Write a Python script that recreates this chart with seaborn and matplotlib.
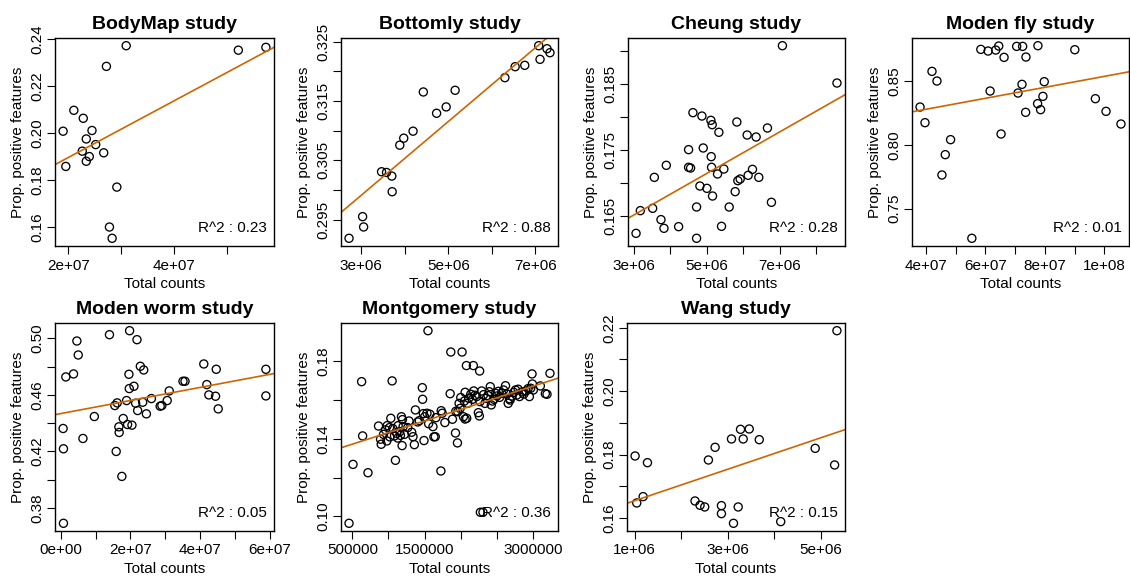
import numpy as np
import pandas as pd
import matplotlib
matplotlib.use("Agg")
import matplotlib.pyplot as plt
import seaborn as sns

# ---------------- data ----------------
titles = ["BodyMap study", "Bottomly study", "Cheung study", "Moden fly study",
          "Moden worm study", "Montgomery study", "Wang study"]
r2_labels = ["0.23", "0.88", "0.28", "0.01", "0.05", "0.36", "0.15"]

bodymap_counts = [1.905e7, 1.956e7, 2.108e7, 2.286e7, 2.267e7, 2.343e7, 2.451e7, 2.521e7,
                  2.40e7, 2.343e7, 2.673e7, 2.724e7, 2.921e7, 2.781e7, 2.832e7, 3.098e7,
                  5.219e7, 5.74e7]
bodymap_prop = [0.2008, 0.1858, 0.2097, 0.2063, 0.1923, 0.1975, 0.2011, 0.1951,
                0.1900, 0.1880, 0.1916, 0.2284, 0.1770, 0.1600, 0.1552, 0.2372,
                0.2353, 0.2365]

bottomly_counts = [2.718e6, 3.030e6, 3.053e6, 3.465e6, 3.579e6, 3.701e6, 3.709e6, 3.884e6,
                   3.975e6, 4.189e6, 4.425e6, 4.730e6, 4.950e6, 5.156e6, 6.299e6, 6.535e6,
                   6.756e6, 7.076e6, 7.107e6, 7.267e6, 7.335e6]
bottomly_prop = [0.29186, 0.29551, 0.29377, 0.30308, 0.30296, 0.30235, 0.29971, 0.30756,
                 0.30874, 0.30992, 0.31653, 0.31294, 0.31401, 0.31681, 0.31894, 0.32079,
                 0.32102, 0.32433, 0.32203, 0.32382, 0.32315]

cheung_counts = [3.064e6, 3.182e6, 3.519e6, 3.565e6, 3.747e6, 3.829e6, 3.893e6, 4.230e6,
                 4.503e6, 4.503e6, 4.558e6, 4.622e6, 4.722e6, 4.722e6, 4.813e6, 4.868e6,
                 4.904e6, 5.005e6, 5.114e6, 5.123e6, 5.132e6, 5.150e6, 5.159e6, 5.296e6,
                 5.333e6, 5.405e6, 5.469e6, 5.615e6, 5.779e6, 5.825e6, 5.852e6, 5.916e6,
                 6.107e6, 6.134e6, 6.253e6, 6.353e6, 6.426e6, 6.663e6, 6.772e6, 7.073e6,
                 8.567e6]
cheung_prop = [0.16243, 0.16586, 0.16621, 0.17089, 0.16450, 0.16319, 0.17271, 0.16344,
               0.17508, 0.17241, 0.17230, 0.18067, 0.16641, 0.16168, 0.16958, 0.18016,
               0.17533, 0.16923, 0.17951, 0.17402, 0.17241, 0.17885, 0.16807, 0.17140,
               0.17770, 0.16349, 0.17215, 0.16641, 0.16873, 0.17926, 0.17039, 0.17064,
               0.17729, 0.17120, 0.17210, 0.17699, 0.17089, 0.17835, 0.16712, 0.19079,
               0.18515]

fly_counts = [3.799e7, 3.966e7, 4.201e7, 4.369e7, 4.536e7, 4.648e7, 4.827e7, 5.542e7,
              5.844e7, 6.089e7, 6.156e7, 6.346e7, 6.447e7, 6.525e7, 6.626e7, 7.050e7,
              7.095e7, 7.229e7, 7.251e7, 7.352e7, 7.363e7, 7.754e7, 7.765e7, 7.855e7,
              7.933e7, 7.978e7, 9.006e7, 9.698e7, 1.0056e8, 1.0559e8]
fly_prop = [0.82963, 0.81736, 0.85757, 0.85000, 0.77637, 0.79230, 0.80405, 0.72676,
            0.87480, 0.87350, 0.84217, 0.87428, 0.87742, 0.80849, 0.86854, 0.87715,
            0.84060, 0.84739, 0.87715, 0.82546, 0.86880, 0.83225, 0.87768, 0.82755,
            0.83799, 0.84948, 0.87454, 0.83616, 0.82624, 0.81632]

worm_counts = [0.077e7, 0.067e7, 0.077e7, 0.145e7, 0.366e7, 0.462e7, 0.501e7, 0.636e7,
               0.963e7, 1.397e7, 1.551e7, 1.590e7, 1.618e7, 1.667e7, 1.676e7, 1.753e7,
               1.792e7, 1.888e7, 1.917e7, 1.956e7, 1.965e7, 1.975e7, 2.042e7, 2.100e7,
               2.148e7, 2.187e7, 2.206e7, 2.283e7, 2.351e7, 2.380e7, 2.457e7, 2.601e7,
               2.852e7, 2.900e7, 3.054e7, 3.112e7, 3.507e7, 3.565e7, 4.104e7, 4.191e7,
               4.249e7, 4.441e7, 4.461e7, 4.518e7, 5.886e7, 5.886e7]
worm_prop = [0.36918, 0.43624, 0.42188, 0.47271, 0.47482, 0.49812, 0.48824, 0.42918,
             0.44471, 0.50259, 0.45247, 0.42000, 0.45435, 0.43741, 0.43341, 0.40235,
             0.44329, 0.45600, 0.43906, 0.47459, 0.46447, 0.50541, 0.43859, 0.46612,
             0.45412, 0.49906, 0.44894, 0.48024, 0.45482, 0.47765, 0.44659, 0.45741,
             0.45200, 0.45247, 0.45600, 0.46282, 0.46965, 0.46965, 0.48188, 0.46729,
             0.46000, 0.45906, 0.47812, 0.45012, 0.47812, 0.45929]

montgomery_counts = [
    454e3, 509e3, 716e3, 628e3, 642e3, 1050e3, 1096e3, 1546e3, 1468e3, 1472e3,
    1862e3, 2018e3, 2078e3, 2174e3, 2261e3, 1853e3, 1725e3, 1927e3, 1954e3, 2271e3,
    2307e3, 2986e3, 3234e3,
    862e3, 890e3, 899e3, 931e3, 959e3, 982e3, 1014e3, 1032e3, 977e3, 1018e3,
    1060e3, 1083e3, 1115e3, 1128e3, 1133e3, 1156e3, 1165e3, 1179e3, 1188e3, 1193e3,
    1202e3, 1220e3, 1266e3, 1284e3, 1321e3, 1339e3, 1358e3, 1372e3, 1404e3, 1427e3,
    1482e3, 1491e3, 1500e3, 1532e3, 1555e3, 1573e3, 1615e3, 1628e3, 1647e3, 1656e3,
    1729e3, 1743e3, 1780e3, 1885e3, 1931e3,
    1959e3, 1977e3, 1991e3, 2000e3, 2037e3, 2050e3, 2060e3, 2082e3, 2096e3, 2110e3,
    2138e3, 2161e3, 2179e3, 2197e3, 2220e3, 2243e3, 2257e3, 2266e3, 2289e3, 2316e3,
    2335e3, 2353e3, 2376e3, 2394e3, 2408e3, 2422e3, 2440e3, 2459e3, 2482e3, 2500e3,
    2518e3, 2537e3, 2564e3, 2592e3, 2619e3, 2638e3, 2656e3, 2674e3, 2683e3, 2711e3,
    2734e3, 2757e3, 2775e3, 2794e3, 2812e3, 2849e3, 2872e3, 2904e3, 2931e3, 2949e3,
    2968e3, 2991e3, 3004e3, 3101e3, 3170e3, 3193e3, 2060e3]
montgomery_prop = [
    0.0964, 0.1268, 0.1225, 0.1695, 0.1415, 0.1699, 0.1289, 0.1958, 0.1664, 0.1604,
    0.1848, 0.1848, 0.1778, 0.1778, 0.1750, 0.1633, 0.1234, 0.1430, 0.1379, 0.1021,
    0.1021, 0.1735, 0.1738,
    0.1466, 0.1398, 0.1372, 0.1423, 0.1446, 0.1468, 0.1458, 0.1506, 0.1389, 0.1410,
    0.1453, 0.1415, 0.1428, 0.1404, 0.1468, 0.1437, 0.1418, 0.1514, 0.1365, 0.1499,
    0.1463, 0.1423, 0.1458, 0.1492, 0.1434, 0.1411, 0.1370, 0.1549, 0.1487, 0.1494,
    0.1530, 0.1391, 0.1514, 0.1532, 0.1478, 0.1527, 0.1463, 0.1410, 0.1411, 0.1509,
    0.1545, 0.1532, 0.1484, 0.1501, 0.1542,
    0.1540, 0.1583, 0.1557, 0.1613, 0.1514, 0.1595, 0.1640, 0.1506, 0.1583, 0.1609,
    0.1630, 0.1604, 0.1647, 0.1625, 0.1618, 0.1535, 0.1518, 0.1592, 0.1647, 0.1628,
    0.1583, 0.1609, 0.1623, 0.1643, 0.1669, 0.1575, 0.1595, 0.1604, 0.1635, 0.1621,
    0.1645, 0.1614, 0.1635, 0.1652, 0.1674, 0.1631, 0.1583, 0.1607, 0.1600, 0.1621,
    0.1640, 0.1652, 0.1626, 0.1656, 0.1618, 0.1642, 0.1631, 0.1647, 0.1659, 0.1618,
    0.1661, 0.1683, 0.1652, 0.1673, 0.1633, 0.1630, 0.1502]

wang_counts = [1.007e6, 1.043e6, 1.180e6, 1.273e6, 2.295e6, 2.403e6, 2.504e6, 2.583e6,
               2.727e6, 2.863e6, 2.863e6, 3.079e6, 3.122e6, 3.223e6, 3.273e6, 3.331e6,
               3.460e6, 3.676e6, 4.137e6, 4.878e6, 5.295e6, 5.345e6]
wang_prop = [0.17955, 0.16473, 0.16673, 0.17744, 0.16536, 0.16400, 0.16347, 0.17828,
             0.18228, 0.16389, 0.16137, 0.18491, 0.15832, 0.16347, 0.18795, 0.18491,
             0.18806, 0.18469, 0.15885, 0.18196, 0.17671, 0.21905]

# tick positions and labels (blank = tick without label, as in the reference)
x_ticks = [
    [2e7, 3e7, 4e7, 5e7],
    [3e6, 4e6, 5e6, 6e6, 7e6],
    [3e6, 4e6, 5e6, 6e6, 7e6, 8e6],
    [4e7, 5e7, 6e7, 7e7, 8e7, 9e7, 1e8],
    [0, 1e7, 2e7, 3e7, 4e7, 5e7, 6e7],
    [5e5, 1e6, 1.5e6, 2e6, 2.5e6, 3e6],
    [1e6, 2e6, 3e6, 4e6, 5e6],
]
x_labels = [
    ["2e+07", "", "4e+07", ""],
    ["3e+06", "", "5e+06", "", "7e+06"],
    ["3e+06", "", "5e+06", "", "7e+06", ""],
    ["4e+07", "", "6e+07", "", "8e+07", "", "1e+08"],
    ["0e+00", "", "2e+07", "", "4e+07", "", "6e+07"],
    ["500000", "", "1500000", "", "", "3000000"],
    ["1e+06", "", "3e+06", "", "5e+06"],
]
y_ticks = [
    [0.16, 0.18, 0.20, 0.22, 0.24],
    [0.295, 0.300, 0.305, 0.310, 0.315, 0.320, 0.325],
    [0.165, 0.170, 0.175, 0.180, 0.185, 0.190],
    [0.75, 0.80, 0.85],
    [0.38, 0.40, 0.42, 0.44, 0.46, 0.48, 0.50],
    [0.10, 0.12, 0.14, 0.16, 0.18],
    [0.16, 0.17, 0.18, 0.19, 0.20, 0.21, 0.22],
]
y_labels = [
    ["0.16", "0.18", "0.20", "0.22", "0.24"],
    ["0.295", "", "0.305", "", "0.315", "", "0.325"],
    ["0.165", "", "0.175", "", "0.185", ""],
    ["0.75", "0.80", "0.85"],
    ["0.38", "", "0.42", "", "0.46", "", "0.50"],
    ["0.10", "", "0.14", "", "0.18"],
    ["0.16", "", "0.18", "", "0.20", "", "0.22"],
]

xs = [bodymap_counts, bottomly_counts, cheung_counts, fly_counts,
      worm_counts, montgomery_counts, wang_counts]
ys = [bodymap_prop, bottomly_prop, cheung_prop, fly_prop,
      worm_prop, montgomery_prop, wang_prop]

# ---------------- style ----------------
sns.set_style("ticks")
plt.rcParams["font.family"] = ["Liberation Sans", "DejaVu Sans"]
plt.rcParams["text.color"] = "black"
plt.rcParams["axes.labelcolor"] = "black"
plt.rcParams["xtick.color"] = "black"
plt.rcParams["ytick.color"] = "black"
LINE_COLOR = "#CD6600"

W, H = 1130, 578
fig = plt.figure(figsize=(W / 100, H / 100), dpi=100)
fig.patch.set_facecolor("white")

# axes boxes in pixels: (left, top, right, bottom)
boxes = [(55, 38, 274, 246), (341, 38, 558, 246), (628, 38, 845, 246), (912, 38, 1129, 246),
         (55, 323, 274, 531), (341, 323, 558, 531), (627, 323, 845, 531)]

for i in range(7):
    l, t, r, b = boxes[i]
    ax = fig.add_axes([l / W, 1 - b / H, (r - l) / W, (b - t) / H])
    ax.set_facecolor("white")
    df = pd.DataFrame({"x": xs[i], "y": ys[i]})
    sns.scatterplot(data=df, x="x", y="y", ax=ax, marker="o", s=34,
                    facecolors="none", edgecolors="black", linewidth=0.95)
    ax.margins(x=0.04, y=0.04)
    xl = ax.get_xlim(); yl = ax.get_ylim()
    slope, intercept = np.polyfit(df["x"], df["y"], 1)
    ax.axline((df["x"].mean(), intercept + slope * df["x"].mean()), slope=slope,
              color=LINE_COLOR, lw=1.2, zorder=1)
    ax.set_xlim(xl); ax.set_ylim(yl)

    ax.set_xticks(x_ticks[i])
    ax.set_xticklabels(x_labels[i], fontsize=11, color="black")
    ax.set_yticks(y_ticks[i])
    ax.set_yticklabels(y_labels[i], fontsize=11, rotation=90, va="center", color="black")
    ax.tick_params(axis="both", direction="out", length=6, width=0.8,
                   color="black", labelcolor="black")
    ax.tick_params(axis="x", pad=3)
    ax.tick_params(axis="y", pad=1.5)
    for sp in ax.spines.values():
        sp.set_visible(True)
        sp.set_color("black")
        sp.set_linewidth(1.0)

    ax.set_title(titles[i], fontsize=14, fontweight="bold", pad=6.5, color="black")
    ax.set_xlabel("Total counts", fontsize=11, labelpad=3, color="black")
    ax.set_ylabel("Prop. positive features", fontsize=11, labelpad=4, color="black")
    ax.annotate(f"R^2 : {r2_labels[i]}", xy=(1, 0), xycoords="axes fraction",
                xytext=(-5, 13), textcoords="offset points",
                ha="right", va="center", fontsize=11, color="black")

fig.savefig("out.png", dpi=100, facecolor="white")
